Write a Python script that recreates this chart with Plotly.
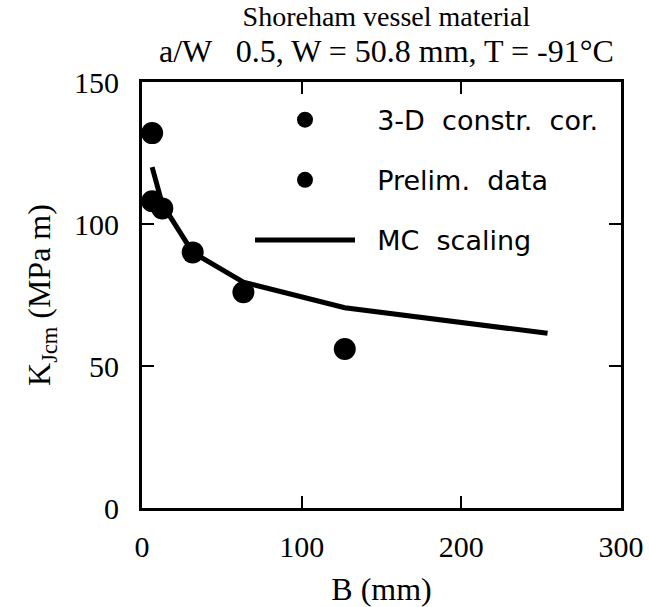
import plotly.graph_objects as go

# Specimen thickness B (mm) and median toughness K_Jc (MPa sqrt m)
b_corrected = [6.35, 12.7, 31.75, 63.5, 127.0]
k_corrected = [108.0, 105.5, 90.0, 76.0, 56.0]

b_prelim = [6.35]
k_prelim = [132.0]

b_mc = [6.35, 12.7, 31.75, 63.5, 127.0, 254.0]
k_mc = [120.0, 107.0, 90.0, 79.5, 70.5, 61.5]

x_ticks = [0, 100, 200, 300]
y_ticks = [0, 50, 100, 150]

title_line1 = "Shoreham vessel material"
title_line2 = "a/W   0.5, W = 50.8 mm, T = -91°C"

serif = "Liberation Serif, Times New Roman, serif"
sans = "DejaVu Sans, Arial, sans-serif"
pad = "\u00a0\u00a0"

fig = go.Figure()

fig.add_trace(go.Scatter(
    x=b_corrected, y=k_corrected, mode="markers", name=pad + "3-D  constr.  cor.",
    legendgroup="a",
    marker=dict(color="black", size=22, line=dict(width=0)),
))
fig.add_trace(go.Scatter(
    x=b_prelim, y=k_prelim, mode="markers", name=pad + "Prelim.  data",
    legendgroup="b",
    marker=dict(color="black", size=22, line=dict(width=0)),
))
fig.add_trace(go.Scatter(
    x=b_mc, y=k_mc, mode="lines", name=pad + "MC  scaling",
    legendgroup="c",
    line=dict(color="black", width=5),
))

axis_common = dict(
    showline=True, linecolor="black", linewidth=3, mirror="ticks",
    ticks="inside", ticklen=12, tickwidth=2, tickcolor="black",
    showgrid=False, zeroline=False, automargin=False,
    tickfont=dict(family=serif, size=30, color="black"),
)

fig.update_xaxes(
    range=[0, 300], tickvals=x_ticks, ticklabelstandoff=10,
    title=dict(text="B (mm)", font=dict(family=serif, size=32, color="black"), standoff=20),
    **axis_common,
)
fig.update_yaxes(
    range=[0, 150], tickvals=y_ticks, ticklabelstandoff=14,
    title=dict(text="K<sub>Jcm</sub> (MPa m)", font=dict(family=serif, size=32, color="black"), standoff=14),
    **axis_common,
)

fig.add_annotation(
    text=(f'<span style="font-size:28px">{title_line1}</span><br>'
          f'<span style="font-size:32px">{title_line2}</span>'),
    xref="paper", yref="paper",
    x=0.51, y=1.11, showarrow=False, xanchor="center", yanchor="middle",
    font=dict(family=serif, size=28, color="black"),
)

fig.update_layout(
    width=649, height=607,
    margin=dict(l=142, r=28, t=82, b=99),
    paper_bgcolor="white", plot_bgcolor="white",
    legend=dict(
        x=0.2255, y=0.968, xanchor="left", yanchor="top",
        bgcolor="rgba(0,0,0,0)", borderwidth=0,
        font=dict(family=sans, size=27, color="black"),
        tracegroupgap=22, itemwidth=100,
    ),
)

fig.write_html("out.html")
